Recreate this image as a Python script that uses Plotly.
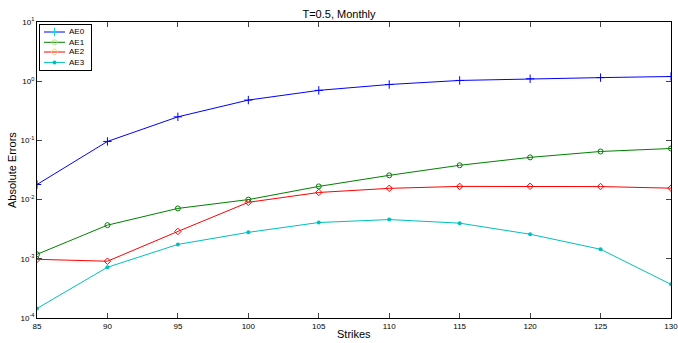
import plotly.graph_objects as go

strikes = [85, 90, 95, 100, 105, 110, 115, 120, 125, 130]
ae0 = [0.018, 0.096, 0.25, 0.48, 0.70, 0.88, 1.03, 1.10, 1.15, 1.20]
ae1 = [1.19e-3, 3.7e-3, 7.1e-3, 0.010, 0.0167, 0.0257, 0.038, 0.0517, 0.065, 0.073]
ae2 = [9.8e-4, 9.1e-4, 2.9e-3, 9.0e-3, 0.0132, 0.0155, 0.0167, 0.0168, 0.0166, 0.0156]
ae3 = [1.45e-4, 7.2e-4, 1.75e-3, 2.8e-3, 4.1e-3, 4.6e-3, 4.0e-3, 2.6e-3, 1.45e-3, 3.7e-4]
y_exponents = [-4, -3, -2, -1, 0, 1]

series = [
    ("AE0", ae0, "#0000ff", dict(symbol="cross-thin-open", size=6, line=dict(width=1, color="#0000ff"))),
    ("AE1", ae1, "#008000", dict(symbol="circle-open", size=5, line=dict(width=1, color="#008000"))),
    ("AE2", ae2, "#ff0000", dict(symbol="diamond-open", size=5, line=dict(width=1, color="#ff0000"))),
    ("AE3", ae3, "#00bfbf", dict(symbol="circle", size=4, color="#00bfbf")),
]

W, H = 678, 343
L, R, T, B = 37, 7, 22, 25
pw, ph = W - L - R, H - T - B

fig = go.Figure()
for name, vals, col, mk in series:
    fig.add_trace(go.Scatter(x=strikes, y=vals, name=name, mode="lines+markers",
                             line=dict(color=col, width=1), marker=mk, showlegend=False))

# custom legend drawn in its own small axes (pixel units inside the box)
box_l, box_r, box_t, box_b = 40, 91, 25, 70
bw, bh = box_r - box_l, box_b - box_t
item_y = [7, 17.3, 27, 37.4]
for (name, vals, col, mk), yy in zip(series, item_y):
    fig.add_trace(go.Scatter(x=[4, 25], y=[yy, yy], mode="lines", line=dict(color=col, width=1),
                             xaxis="x2", yaxis="y2", showlegend=False, hoverinfo="skip"))
    fig.add_trace(go.Scatter(x=[14.5], y=[yy], mode="markers", marker=mk,
                             xaxis="x2", yaxis="y2", showlegend=False, hoverinfo="skip"))
    fig.add_annotation(x=26.5, y=yy, xref="x2", yref="y2", text=name, showarrow=False,
                       xanchor="left", yanchor="middle", font=dict(size=8))

font = "Liberation Sans, Arial, sans-serif"
fig.update_layout(
    width=W, height=H,
    margin=dict(l=L, r=R, t=T, b=B, autoexpand=False),
    paper_bgcolor="white", plot_bgcolor="white",
    font=dict(family=font, size=8, color="black"),
    title=dict(text="T=0.5, Monthly", x=0.5, xanchor="center", y=1 - 14 / H, yanchor="middle",
               font=dict(size=11, family=font)),
    showlegend=False,
    xaxis=dict(range=[85, 130], tickvals=strikes, ticks="inside", ticklen=5,
               showline=True, linecolor="black", linewidth=1, mirror="allticks",
               showgrid=False, zeroline=False, tickfont=dict(size=8), automargin=False,
               ticklabeloverflow="allow"),
    yaxis=dict(type="log", range=[-4, 1],
               tickvals=[10.0 ** e for e in y_exponents],
               ticktext=["10<sup>%d</sup>" % e for e in y_exponents],
               ticks="inside", ticklen=5, showline=True, linecolor="black", linewidth=1,
               mirror="allticks", showgrid=False, zeroline=False, tickfont=dict(size=8),
               automargin=False, ticklabeloverflow="allow"),
    xaxis2=dict(domain=[(box_l - L) / pw, (box_r - L) / pw], range=[0, bw], anchor="y2",
                showline=True, linecolor="black", linewidth=1, mirror=True,
                showticklabels=False, ticks="", showgrid=False, zeroline=False, fixedrange=True),
    yaxis2=dict(domain=[(H - B - box_b) / ph, (H - B - box_t) / ph], range=[bh, 0], anchor="x2",
                showline=True, linecolor="black", linewidth=1, mirror=True,
                showticklabels=False, ticks="", showgrid=False, zeroline=False, fixedrange=True),
)

fig.add_annotation(text="Strikes", x=0.5, xref="paper", y=(H - B - 334) / ph, yref="paper",
                   showarrow=False, font=dict(size=11), xanchor="center", yanchor="middle")
fig.add_annotation(text="Absolute Errors", x=(12 - L) / pw, y=0.5, xref="paper", yref="paper",
                   showarrow=False, textangle=-90, font=dict(size=11),
                   xanchor="center", yanchor="middle")

fig.write_html("out.html", config=dict(displayModeBar=False),
               post_script="document.body.style.margin='0';document.body.style.padding='0';")
